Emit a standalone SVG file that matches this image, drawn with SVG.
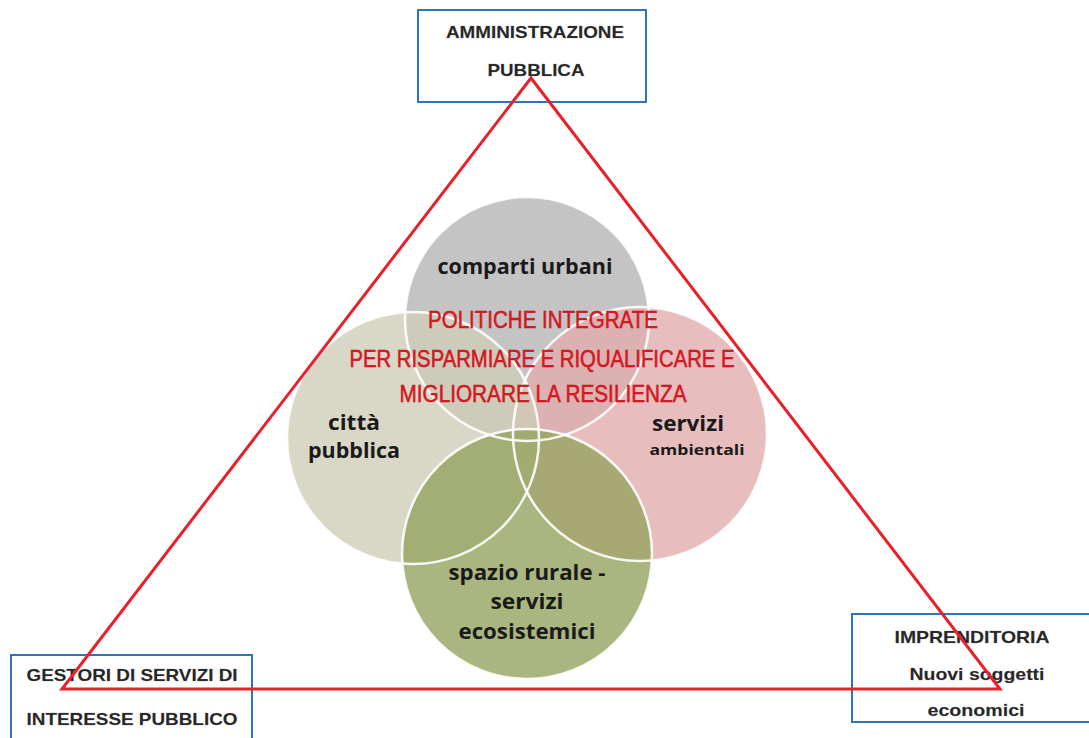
<svg xmlns="http://www.w3.org/2000/svg" width="1089" height="738" viewBox="0 0 1089 738">
<style>
.box{fill:#fff;stroke:#2e75b6;stroke-width:2}
.bt{font-family:"Liberation Sans",Arial,sans-serif;font-weight:bold;font-size:17px;fill:#262626;text-anchor:middle;stroke:#555;stroke-width:0.3;stroke-opacity:0.6}
.circ{fill-opacity:0.8}
.ring{fill:none;stroke:#fff;stroke-width:2.5;stroke-opacity:0.9}
.ct{font-family:"Open Sans","Liberation Sans",sans-serif;font-weight:bold;font-size:21px;fill:#1a1a1a;text-anchor:middle}
.rt{font-family:"Liberation Sans",Arial,sans-serif;font-size:23px;fill:#ec1520;stroke:#b01018;stroke-width:0.5;text-anchor:middle}
.tri{fill:none;stroke:#e8202a;stroke-width:3;stroke-linejoin:miter}
</style>
<rect width="1089" height="738" fill="#fff"/>
<g id="node-amministrazione">
<rect class="box" x="418" y="10" width="228" height="92"/>
<text class="bt" x="535" y="38" textLength="178" lengthAdjust="spacingAndGlyphs">AMMINISTRAZIONE</text>
<text class="bt" x="536" y="76" textLength="97" lengthAdjust="spacingAndGlyphs">PUBBLICA</text>
</g>
<g id="node-gestori">
<rect class="box" x="11" y="655" width="241" height="92"/>
<text class="bt" x="132" y="681" textLength="211" lengthAdjust="spacingAndGlyphs">GESTORI DI SERVIZI DI</text>
<text class="bt" x="132" y="725" textLength="211" lengthAdjust="spacingAndGlyphs">INTERESSE PUBBLICO</text>
</g>
<g id="node-imprenditoria">
<rect class="box" x="852" y="614" width="245" height="108"/>
<text class="bt" x="972" y="643" textLength="155" lengthAdjust="spacingAndGlyphs">IMPRENDITORIA</text>
<text class="bt" x="977" y="680" textLength="135" lengthAdjust="spacingAndGlyphs">Nuovi soggetti</text>
<text class="bt" x="976" y="716" textLength="97" lengthAdjust="spacingAndGlyphs">economici</text>
</g>
<g id="venn">
<circle id="c-comparti" class="circ" cx="527" cy="319" r="122" fill="#b5b5b5"/>
<circle id="c-servizi" class="circ" cx="640" cy="434" r="127" fill="#e2acac"/>
<circle id="c-citta" class="circ" cx="413" cy="438" r="126" fill="#cfcdb6"/>
<circle id="c-rurale" class="circ" cx="527" cy="554" r="125" fill="#95a45f"/>
<circle class="ring" cx="527" cy="319" r="122"/>
<circle class="ring" cx="640" cy="434" r="127"/>
<circle class="ring" cx="413" cy="438" r="126"/>
<circle class="ring" cx="527" cy="554" r="125"/>
<text class="ct" x="525" y="274" textLength="175" lengthAdjust="spacingAndGlyphs">comparti urbani</text>
<text class="ct" x="354" y="430" textLength="52" lengthAdjust="spacingAndGlyphs">città</text>
<text class="ct" x="354" y="458" textLength="92" lengthAdjust="spacingAndGlyphs">pubblica</text>
<text class="ct" x="688" y="431" textLength="72" lengthAdjust="spacingAndGlyphs">servizi</text>
<text class="ct" x="697" y="455" style="font-size:15px" textLength="95" lengthAdjust="spacingAndGlyphs">ambientali</text>
<text class="ct" x="527" y="580" textLength="157" lengthAdjust="spacingAndGlyphs">spazio rurale -</text>
<text class="ct" x="527" y="609" textLength="73" lengthAdjust="spacingAndGlyphs">servizi</text>
<text class="ct" x="527" y="639" textLength="137" lengthAdjust="spacingAndGlyphs">ecosistemici</text>
</g>
<g id="connectors">
<polygon class="tri" points="531,78 1000,689 62,689"/>
</g>
<g id="title">
<text class="rt" x="543" y="328" textLength="230" lengthAdjust="spacingAndGlyphs">POLITICHE INTEGRATE</text>
<text class="rt" x="542" y="367" textLength="385" lengthAdjust="spacingAndGlyphs">PER RISPARMIARE E RIQUALIFICARE E</text>
<text class="rt" x="543" y="402" textLength="287" lengthAdjust="spacingAndGlyphs">MIGLIORARE LA RESILIENZA</text>
</g>
</svg>
